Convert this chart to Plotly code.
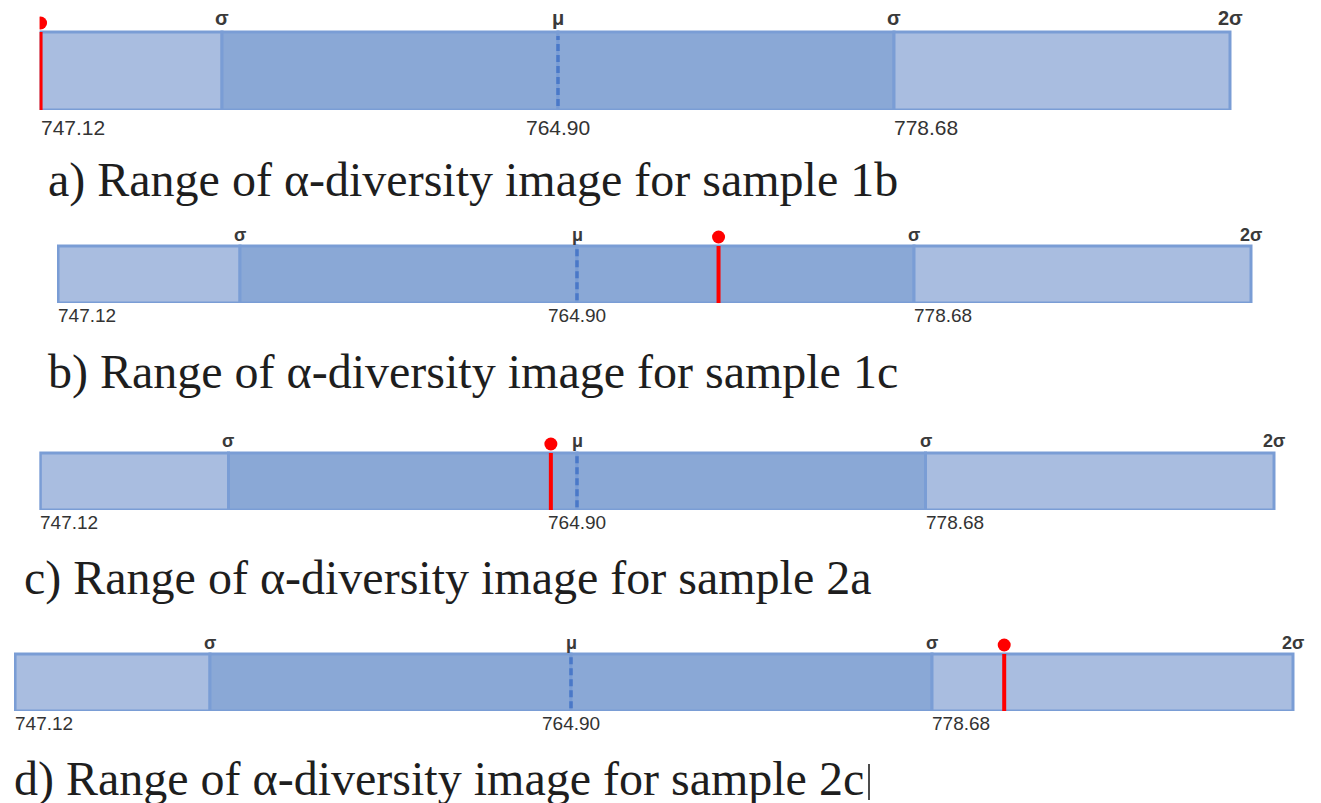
import plotly.graph_objects as go

W, H = 1321, 803

# Range scale expressed in standard deviations from the mean (μ = 0)
zone_edges = [-1.54, -1.0, 0.0, 1.0, 2.0]
scale_marks = ["σ", "μ", "σ", "2σ"]
scale_mark_pos = [-1.0, 0.0, 1.0, 2.0]
value_labels = ["747.12", "764.90", "778.68"]
value_label_pos = [-1.54, 0.0, 1.0]
mean_pos = 0.0

panel_letters = ["a)", "b)", "c)", "d)"]
sample_names = ["1b", "1c", "2a", "2c"]
sample_pos = [-1.54, 0.42, -0.075, 1.20]

# styling
LIGHT = "#A9BDE0"
DARK = "#8AA8D6"
EDGE = "#7A9DD5"
MEAN_COLOR = "#4A78C8"
RED = "#FF0000"
zone_colors = [LIGHT, DARK, DARK, LIGHT]
value_anchor = ["left", "center", "left"]

# pixel placement of each strip
panels = [
    dict(mu=558, s=336.0, top=32, bot=110, up=14, down=17, fs=21, cx=46, cy=180),
    dict(mu=577, s=337.0, top=246, bot=303, up=11, down=12, fs=19, cx=46, cy=372),
    dict(mu=577, s=348.5, top=453, bot=510, up=12, down=12, fs=19, cx=22, cy=578),
    dict(mu=571, s=361.0, top=654, bot=711, up=11, down=12, fs=19, cx=12, cy=779),
]

fig = go.Figure()
layout = dict(
    width=W, height=H,
    margin=dict(l=0, r=0, t=0, b=0),
    paper_bgcolor="white", plot_bgcolor="rgba(0,0,0,0)",
    showlegend=False, barmode="overlay",
)
annotations = []
HEAD = 26  # room above each strip for the sample dot

widths = [b - a for a, b in zip(zone_edges[:-1], zone_edges[1:])]

for i, p in enumerate(panels):
    n = "" if i == 0 else str(i + 1)
    xa, ya = "x" + n, "y" + n
    zl = zone_edges[0]
    left_px = p["mu"] + zl * p["s"]
    bar_h = p["bot"] - p["top"]

    layout["xaxis" + n] = dict(
        domain=[(left_px - 1) / W, 1],
        range=[zl - 1 / p["s"], zl + (W - left_px) / p["s"]],
        visible=False, fixedrange=True,
    )
    layout["yaxis" + n] = dict(
        domain=[(H - p["bot"]) / H, (H - (p["top"] - HEAD)) / H],
        range=[-0.5, 0.5 + HEAD / bar_h],
        visible=False, fixedrange=True,
    )

    # the four zones of the range bar
    fig.add_trace(go.Bar(
        orientation="h", y=[0] * len(widths), x=widths, base=zone_edges[:-1],
        width=1, marker=dict(color=zone_colors, line=dict(color=EDGE, width=3)),
        xaxis=xa, yaxis=ya, hoverinfo="skip",
    ))

    # dashed mean line
    fig.add_trace(go.Scatter(
        x=[mean_pos, mean_pos], y=[-0.45, 0.45], mode="lines",
        line=dict(color=MEAN_COLOR, width=3.5, dash="7px,4px"),
        xaxis=xa, yaxis=ya, hoverinfo="skip",
    ))

    # sample value: red line with a dot on top
    sp = sample_pos[i]
    fig.add_trace(go.Scatter(
        x=[sp, sp], y=[-0.5, 0.5], mode="lines",
        line=dict(color=RED, width=4),
        xaxis=xa, yaxis=ya, hoverinfo="skip",
    ))
    fig.add_trace(go.Scatter(
        x=[sp], y=[0.5 + 9 / bar_h], mode="markers",
        marker=dict(color=RED, size=13),
        xaxis=xa, yaxis=ya, cliponaxis=True, hoverinfo="skip",
    ))

    # σ / μ marks above the bar
    for lab, pos in zip(scale_marks, scale_mark_pos):
        annotations.append(dict(
            x=pos, y=0.5, xref=xa, yref=ya, text="<b>" + lab + "</b>",
            showarrow=False, xanchor="center", yanchor="middle", yshift=p["up"],
            font=dict(family="Liberation Sans, Arial", size=p["fs"] - 1, color="#3a3a3a"),
        ))
    # values below the bar
    for lab, pos, anc in zip(value_labels, value_label_pos, value_anchor):
        annotations.append(dict(
            x=pos, y=-0.5, xref=xa, yref=ya, text=lab,
            showarrow=False, xanchor=anc, yanchor="middle", yshift=-p["down"],
            xshift=-2 if anc == "left" else 0,
            font=dict(family="Liberation Sans, Arial", size=p["fs"], color="#333333"),
        ))
    # caption
    annotations.append(dict(
        x=p["cx"] / W, y=1 - p["cy"] / H, xref="paper", yref="paper",
        text=f"{panel_letters[i]} Range of α-diversity image for sample {sample_names[i]}",
        showarrow=False, xanchor="left", yanchor="middle",
        font=dict(family="Liberation Serif, Times New Roman", size=48, color="#1e1e1e"),
    ))

layout["annotations"] = annotations
layout["shapes"] = [dict(
    type="line", xref="paper", yref="paper",
    x0=869 / W, x1=869 / W, y0=1 - 800 / H, y1=1 - 764 / H,
    line=dict(color="#111111", width=1.5),
)]
fig.update_layout(**layout)
fig.write_html("out.html")
